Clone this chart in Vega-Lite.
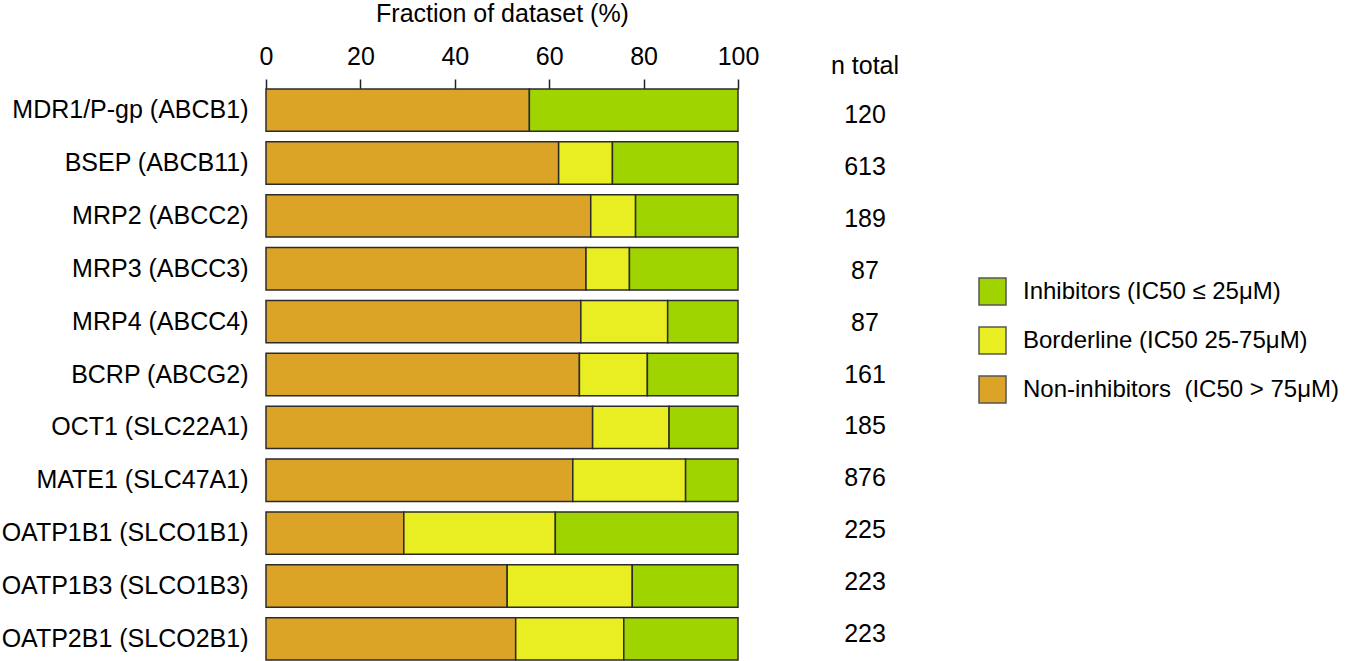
{
  "$schema": "https://vega.github.io/schema/vega-lite/v6.json",
  "padding": {"left": 1, "top": 1, "right": 0, "bottom": 0},
  "background": "#ffffff",
  "config": {"font": "Liberation Sans", "view": {"stroke": null}, "concat": {"spacing": 10}},
  "datasets": {
    "bars": [
      {"transporter": "MDR1/P-gp (ABCB1)", "category": "Non-inhibitors\u00a0 (IC50 > 75μM)", "k": 0, "pct": 55.8},
      {"transporter": "MDR1/P-gp (ABCB1)", "category": "Inhibitors (IC50 ≤ 25μM)", "k": 2, "pct": 44.2},
      {"transporter": "BSEP (ABCB11)", "category": "Non-inhibitors\u00a0 (IC50 > 75μM)", "k": 0, "pct": 62.0},
      {"transporter": "BSEP (ABCB11)", "category": "Borderline (IC50 25-75μM)", "k": 1, "pct": 11.4},
      {"transporter": "BSEP (ABCB11)", "category": "Inhibitors (IC50 ≤ 25μM)", "k": 2, "pct": 26.6},
      {"transporter": "MRP2 (ABCC2)", "category": "Non-inhibitors\u00a0 (IC50 > 75μM)", "k": 0, "pct": 68.8},
      {"transporter": "MRP2 (ABCC2)", "category": "Borderline (IC50 25-75μM)", "k": 1, "pct": 9.5},
      {"transporter": "MRP2 (ABCC2)", "category": "Inhibitors (IC50 ≤ 25μM)", "k": 2, "pct": 21.7},
      {"transporter": "MRP3 (ABCC3)", "category": "Non-inhibitors\u00a0 (IC50 > 75μM)", "k": 0, "pct": 67.8},
      {"transporter": "MRP3 (ABCC3)", "category": "Borderline (IC50 25-75μM)", "k": 1, "pct": 9.2},
      {"transporter": "MRP3 (ABCC3)", "category": "Inhibitors (IC50 ≤ 25μM)", "k": 2, "pct": 23.0},
      {"transporter": "MRP4 (ABCC4)", "category": "Non-inhibitors\u00a0 (IC50 > 75μM)", "k": 0, "pct": 66.7},
      {"transporter": "MRP4 (ABCC4)", "category": "Borderline (IC50 25-75μM)", "k": 1, "pct": 18.4},
      {"transporter": "MRP4 (ABCC4)", "category": "Inhibitors (IC50 ≤ 25μM)", "k": 2, "pct": 14.9},
      {"transporter": "BCRP (ABCG2)", "category": "Non-inhibitors\u00a0 (IC50 > 75μM)", "k": 0, "pct": 66.4},
      {"transporter": "BCRP (ABCG2)", "category": "Borderline (IC50 25-75μM)", "k": 1, "pct": 14.4},
      {"transporter": "BCRP (ABCG2)", "category": "Inhibitors (IC50 ≤ 25μM)", "k": 2, "pct": 19.2},
      {"transporter": "OCT1 (SLC22A1)", "category": "Non-inhibitors\u00a0 (IC50 > 75μM)", "k": 0, "pct": 69.2},
      {"transporter": "OCT1 (SLC22A1)", "category": "Borderline (IC50 25-75μM)", "k": 1, "pct": 16.2},
      {"transporter": "OCT1 (SLC22A1)", "category": "Inhibitors (IC50 ≤ 25μM)", "k": 2, "pct": 14.6},
      {"transporter": "MATE1 (SLC47A1)", "category": "Non-inhibitors\u00a0 (IC50 > 75μM)", "k": 0, "pct": 65.0},
      {"transporter": "MATE1 (SLC47A1)", "category": "Borderline (IC50 25-75μM)", "k": 1, "pct": 23.9},
      {"transporter": "MATE1 (SLC47A1)", "category": "Inhibitors (IC50 ≤ 25μM)", "k": 2, "pct": 11.1},
      {"transporter": "OATP1B1 (SLCO1B1)", "category": "Non-inhibitors\u00a0 (IC50 > 75μM)", "k": 0, "pct": 29.2},
      {"transporter": "OATP1B1 (SLCO1B1)", "category": "Borderline (IC50 25-75μM)", "k": 1, "pct": 32.1},
      {"transporter": "OATP1B1 (SLCO1B1)", "category": "Inhibitors (IC50 ≤ 25μM)", "k": 2, "pct": 38.7},
      {"transporter": "OATP1B3 (SLCO1B3)", "category": "Non-inhibitors\u00a0 (IC50 > 75μM)", "k": 0, "pct": 51.1},
      {"transporter": "OATP1B3 (SLCO1B3)", "category": "Borderline (IC50 25-75μM)", "k": 1, "pct": 26.5},
      {"transporter": "OATP1B3 (SLCO1B3)", "category": "Inhibitors (IC50 ≤ 25μM)", "k": 2, "pct": 22.4},
      {"transporter": "OATP2B1 (SLCO2B1)", "category": "Non-inhibitors\u00a0 (IC50 > 75μM)", "k": 0, "pct": 52.9},
      {"transporter": "OATP2B1 (SLCO2B1)", "category": "Borderline (IC50 25-75μM)", "k": 1, "pct": 22.9},
      {"transporter": "OATP2B1 (SLCO2B1)", "category": "Inhibitors (IC50 ≤ 25μM)", "k": 2, "pct": 24.2}
    ],
    "totals": [
      {"transporter": "MDR1/P-gp (ABCB1)", "n": 120},
      {"transporter": "BSEP (ABCB11)", "n": 613},
      {"transporter": "MRP2 (ABCC2)", "n": 189},
      {"transporter": "MRP3 (ABCC3)", "n": 87},
      {"transporter": "MRP4 (ABCC4)", "n": 87},
      {"transporter": "BCRP (ABCG2)", "n": 161},
      {"transporter": "OCT1 (SLC22A1)", "n": 185},
      {"transporter": "MATE1 (SLC47A1)", "n": 876},
      {"transporter": "OATP1B1 (SLCO1B1)", "n": 225},
      {"transporter": "OATP1B3 (SLCO1B3)", "n": 223},
      {"transporter": "OATP2B1 (SLCO2B1)", "n": 223}
    ]
  },
  "hconcat": [
    {
      "width": 472,
      "height": 571,
      "data": {"name": "bars"},
      "mark": {"type": "bar", "stroke": "#2b2b2b", "strokeWidth": 1.5},
      "encoding": {
        "y": {
          "field": "transporter", "type": "nominal", "sort": null,
          "scale": {"paddingInner": 0.2, "paddingOuter": 0},
          "axis": {"title": null, "domain": false, "ticks": false, "labelFontSize": 25, "labelColor": "#000000", "labelPadding": 18, "labelLimit": 400}
        },
        "x": {
          "field": "pct", "type": "quantitative", "stack": "zero",
          "scale": {"domain": [0, 100], "nice": false},
          "axis": {
            "orient": "top", "title": "Fraction of dataset (%)", "titleFontSize": 25, "titleFontWeight": "normal", "titleColor": "#000000", "titlePadding": 18,
            "labelFontSize": 25, "labelColor": "#000000", "labelPadding": 10, "labelFlush": false,
            "tickSize": 10, "tickColor": "#222222", "tickWidth": 1.5,
            "domain": false, "grid": false, "values": [0, 20, 40, 60, 80, 100]
          }
        },
        "color": {
          "field": "category", "type": "nominal",
          "scale": {
            "domain": ["Inhibitors (IC50 ≤ 25μM)", "Borderline (IC50 25-75μM)", "Non-inhibitors\u00a0 (IC50 > 75μM)"],
            "range": ["#9fd400", "#e8ee22", "#dba427"]
          },
          "legend": {
            "title": null, "orient": "none", "legendX": 712, "legendY": 188,
            "symbolType": "square", "symbolSize": 729, "symbolStrokeColor": "#555555", "symbolStrokeWidth": 1.5, "symbolOpacity": 1,
            "labelFontSize": 24, "labelColor": "#000000", "labelOffset": 16, "rowPadding": 16, "labelLimit": 400
          }
        },
        "order": {"field": "k", "type": "quantitative"}
      }
    },
    {
      "width": 192,
      "height": 571,
      "data": {"name": "totals"},
      "title": {"text": "n total", "fontSize": 25, "fontWeight": "normal", "color": "#000000", "anchor": "middle", "offset": 10},
      "mark": {"type": "text", "fontSize": 25, "color": "#000000"},
      "encoding": {
        "y": {"field": "transporter", "type": "nominal", "sort": null, "scale": {"paddingInner": 0.2, "paddingOuter": 0}, "axis": null},
        "text": {"field": "n", "type": "quantitative"}
      }
    }
  ]
}
